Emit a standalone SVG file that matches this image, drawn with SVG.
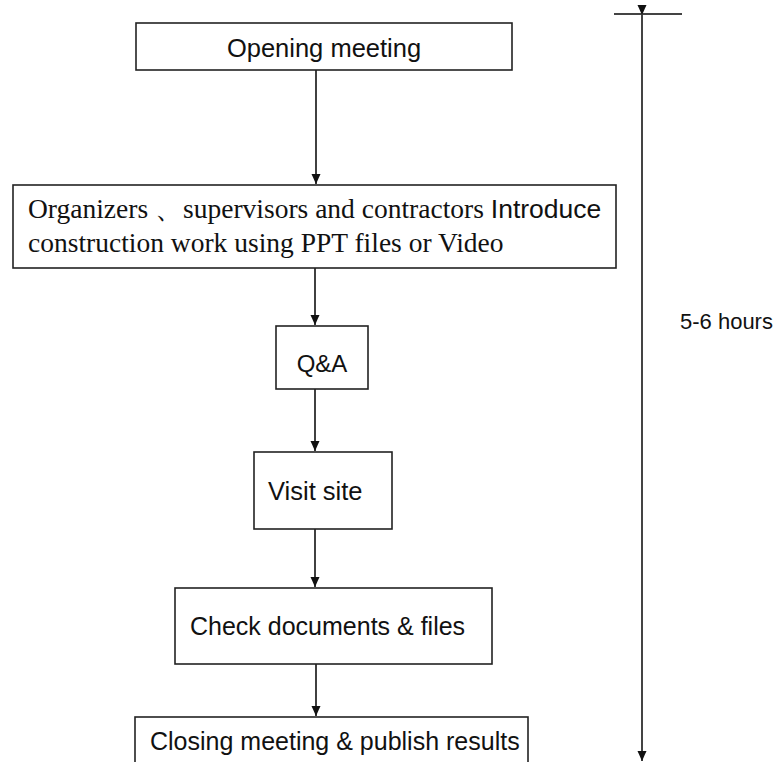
<svg xmlns="http://www.w3.org/2000/svg" width="777" height="762" viewBox="0 0 777 762">
<defs>
<style>
.box{fill:#fff;stroke:#222;stroke-width:1.6}
.sans{font-family:"Liberation Sans",Arial,sans-serif;fill:#111}
.serif{font-family:"Liberation Serif","Times New Roman",serif;fill:#111}
.conn{stroke:#111;stroke-width:1.6;fill:none}
.dim{stroke:#444;stroke-width:2;fill:none}
</style>
<marker id="ah" markerWidth="12" markerHeight="12" refX="10" refY="5" orient="auto" markerUnits="userSpaceOnUse">
<path d="M0,0.5 L10,5 L0,9.5 Z" fill="#111"/>
</marker>
</defs>
<rect width="777" height="762" fill="#fff"/>
<g id="connectors">
<line class="conn" x1="316" y1="70" x2="316" y2="184" marker-end="url(#ah)"/>
<line class="conn" x1="315" y1="268" x2="315" y2="325" marker-end="url(#ah)"/>
<line class="conn" x1="315" y1="389" x2="315" y2="451" marker-end="url(#ah)"/>
<line class="conn" x1="315" y1="529" x2="315" y2="587" marker-end="url(#ah)"/>
<line class="conn" x1="316" y1="664" x2="316" y2="716" marker-end="url(#ah)"/>
</g>
<g id="duration">
<line class="dim" x1="614" y1="14" x2="682" y2="14"/>
<line class="dim" x1="642" y1="15" x2="642" y2="761" marker-start="url(#ah)" marker-end="url(#ah)"/>
<text class="sans" x="680" y="329" font-size="22">5-6 hours</text>
</g>
<g id="opening">
<rect class="box" x="136" y="23" width="376" height="47"/>
<text class="sans" x="324" y="57" font-size="25.5" text-anchor="middle">Opening meeting</text>
</g>
<g id="introduce">
<rect class="box" x="13" y="185" width="603" height="83"/>
<text class="serif" x="28" y="218" font-size="27.5">Organizers 、supervisors and contractors <tspan class="sans" font-size="26.5">Introduce</tspan></text>
<text class="serif" x="28" y="252" font-size="27.5">construction work using PPT files or Video</text>
</g>
<g id="qa">
<rect class="box" x="276" y="326" width="92" height="63"/>
<text class="sans" x="322" y="372" font-size="24" text-anchor="middle">Q&amp;A</text>
</g>
<g id="visit">
<rect class="box" x="254" y="452" width="138" height="77"/>
<text class="sans" x="268" y="500" font-size="25.5">Visit site</text>
</g>
<g id="check">
<rect class="box" x="175" y="588" width="317" height="76"/>
<text class="sans" x="190" y="635" font-size="25">Check documents &amp; files</text>
</g>
<g id="closing">
<rect class="box" x="135" y="717" width="393" height="60"/>
<text class="sans" x="150" y="750" font-size="25">Closing meeting &amp; publish results</text>
</g>
</svg>
